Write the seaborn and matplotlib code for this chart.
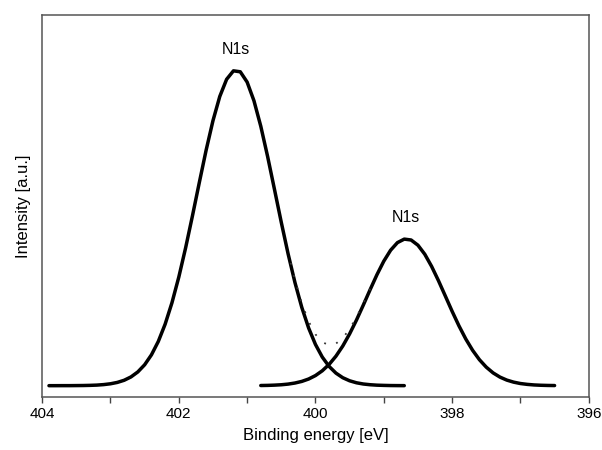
import numpy as np
import pandas as pd
import matplotlib
matplotlib.use("Agg")
import matplotlib.pyplot as plt
import seaborn as sns

# N1s component 1 (binding energy eV, intensity a.u.)
peak1_energy = [403.9, 403.8, 403.7, 403.6, 403.5, 403.4, 403.3, 403.2, 403.1, 403.0,
                402.9, 402.8, 402.7, 402.6, 402.5, 402.4, 402.3, 402.2, 402.1, 402.0,
                401.9, 401.8, 401.7, 401.6, 401.5, 401.4, 401.3, 401.2, 401.1, 401.0,
                400.9, 400.8, 400.7, 400.6, 400.5, 400.4, 400.3, 400.2, 400.1, 400.0,
                399.9, 399.8, 399.7, 399.6, 399.5, 399.4, 399.3, 399.2, 399.1, 399.0,
                398.9, 398.8, 398.7]
peak1_int = [0.00, 0.00, 0.01, 0.01, 0.03, 0.05, 0.10, 0.18, 0.34, 0.60,
             1.03, 1.71, 2.77, 4.35, 6.62, 9.78, 14.01, 19.48, 26.28, 34.40,
             43.69, 53.83, 64.34, 74.62, 83.96, 91.66, 97.08, 99.76, 99.46, 96.20,
             90.28, 82.20, 72.61, 62.23, 51.75, 41.75, 32.68, 24.81, 18.28, 13.07,
             9.06, 6.10, 3.98, 2.52, 1.55, 0.92, 0.53, 0.30, 0.16, 0.09,
             0.04, 0.02, 0.01]

# N1s component 2
peak2_energy = [400.8, 400.7, 400.6, 400.5, 400.4, 400.3, 400.2, 400.1, 400.0, 399.9,
                399.8, 399.7, 399.6, 399.5, 399.4, 399.3, 399.2, 399.1, 399.0, 398.9,
                398.8, 398.7, 398.6, 398.5, 398.4, 398.3, 398.2, 398.1, 398.0, 397.9,
                397.8, 397.7, 397.6, 397.5, 397.4, 397.3, 397.2, 397.1, 397.0, 396.9,
                396.8, 396.7, 396.6, 396.5]
peak2_int = [0.05, 0.09, 0.17, 0.29, 0.50, 0.84, 1.35, 2.11, 3.20, 4.72,
             6.74, 9.35, 12.57, 16.41, 20.77, 25.52, 30.41, 35.16, 39.44, 42.92,
             45.33, 46.44, 46.16, 44.51, 41.65, 37.80, 33.29, 28.45, 23.58, 18.97,
             14.80, 11.21, 8.23, 5.87, 4.05, 2.72, 1.77, 1.12, 0.68, 0.41,
             0.23, 0.13, 0.07, 0.04]

# envelope (dotted) in the valley between the peaks
env_energy = [400.4, 400.3, 400.2, 400.1, 400.0, 399.9, 399.8, 399.7, 399.6, 399.5,
              399.4, 399.3, 399.2]
env_int = [42.25, 33.52, 26.16, 20.39, 16.27, 13.78, 12.84, 13.33, 15.09, 17.96,
           21.69, 26.05, 30.71]

labels = ["N1s", "N1s"]
label_pos = [(401.16, 104), (398.67, 51)]

sns.set_style("ticks")
plt.rcParams['font.family'] = ['Liberation Sans', 'DejaVu Sans']
plt.rcParams['text.color'] = 'black'
plt.rcParams['axes.labelcolor'] = 'black'

fig = plt.figure(figsize=(6.02, 4.5), dpi=100)
ax = fig.add_axes([0.07, 0.117, 0.908, 0.85])

df1 = pd.DataFrame({"energy": peak1_energy, "intensity": peak1_int})
df2 = pd.DataFrame({"energy": peak2_energy, "intensity": peak2_int})
dfe = pd.DataFrame({"energy": env_energy, "intensity": env_int})

sns.lineplot(data=df1, x="energy", y="intensity", color="black", lw=2.5, ax=ax)
sns.lineplot(data=df2, x="energy", y="intensity", color="black", lw=2.5, ax=ax)
sns.lineplot(data=dfe, x="energy", y="intensity", color="#333333", lw=1.3,
             linestyle=(0, (1, 6)), ax=ax)

for txt, (x, y) in zip(labels, label_pos):
    ax.text(x, y, txt, ha="center", va="bottom", fontsize=11.5, color="black")

ax.set_xlim(404, 396)
ax.set_ylim(-3.7, 117.5)
ax.set_xticks([404, 402, 400, 398, 396])
ax.set_xticks([403, 401, 399, 397], minor=True)
ax.set_yticks([])
ax.tick_params(axis="x", which="both", direction="out", length=4, width=1, colors="#444444",
               labelcolor="black", labelsize=11, pad=3)
for s in ax.spines.values():
    s.set_visible(True)
    s.set_color("#555555")
    s.set_linewidth(1.1)

ax.set_xlabel("Binding energy [eV]", fontsize=12, labelpad=5)
ax.set_ylabel("Intensity [a.u.]", fontsize=12, labelpad=8)

fig.savefig("out.png", dpi=100)
